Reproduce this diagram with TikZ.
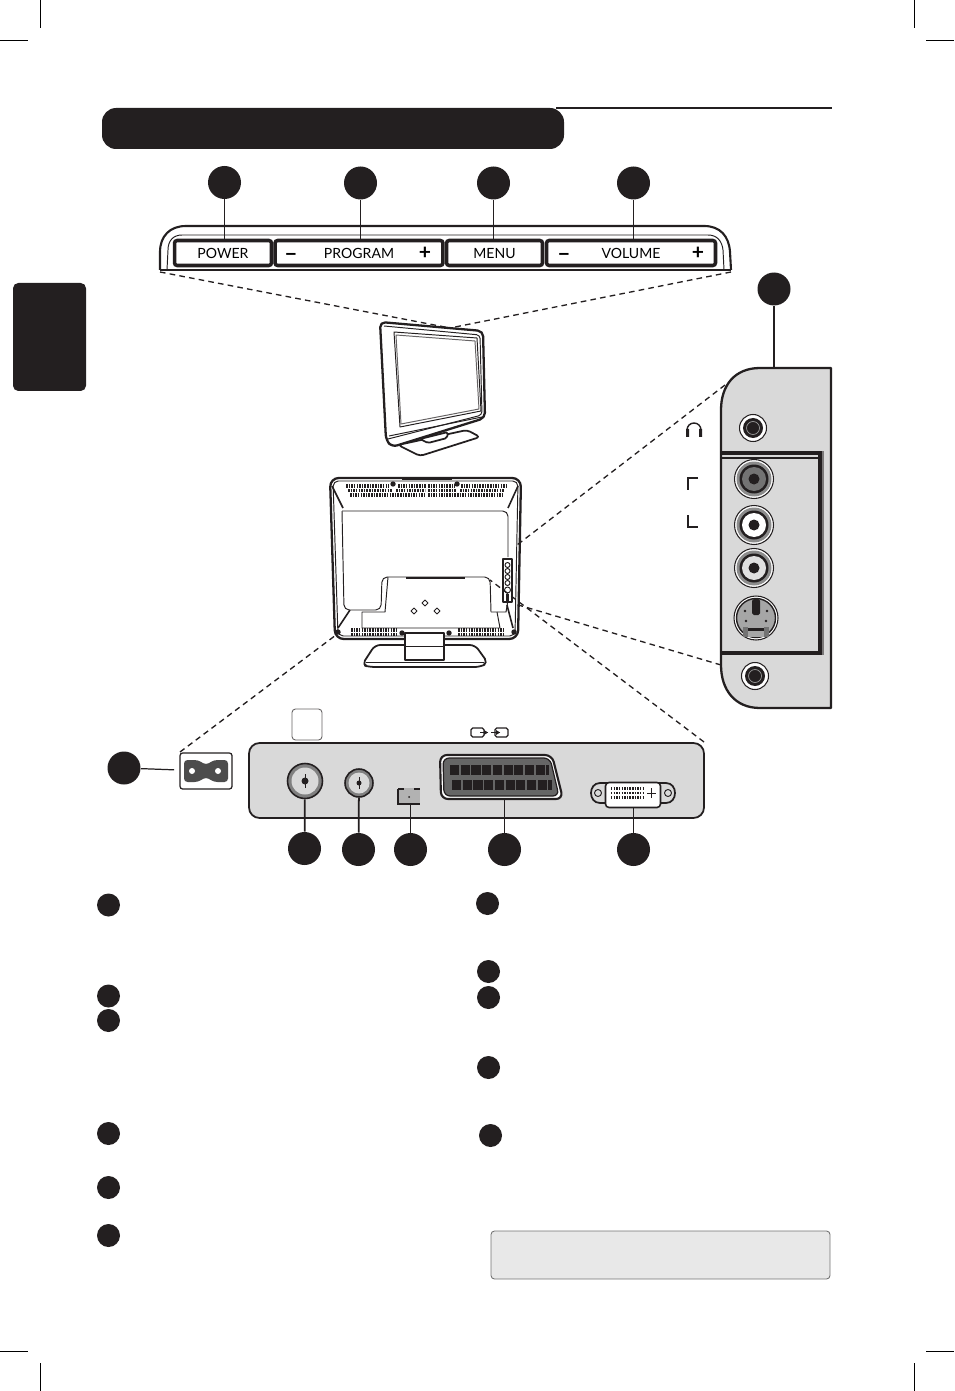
\documentclass[tikz,border=0pt]{standalone}
\usepackage{fontspec}
\setmainfont{Lato}
\usetikzlibrary{positioning}
\definecolor{inkblack}{HTML}{231F20}
\definecolor{panelgrey}{HTML}{D9D9D9}
\definecolor{notegrey}{HTML}{E8E8E8}
\tikzset{
  calldot/.style={circle, fill=inkblack, inner sep=0pt, minimum size=0.66cm},
  listdot/.style={circle, fill=inkblack, inner sep=0pt, minimum size=0.46cm},
  keybox/.style={draw=inkblack, line width=2pt, rounded corners=1.5pt, fill=white, inner sep=0pt, minimum height=0.5cm, text height=6pt, text depth=0pt, font=\fontsize{8}{9}\selectfont},
  keysign/.style={inner sep=0pt, font=\fontsize{12}{12}\selectfont\bfseries},
  leader/.style={draw=inkblack, line width=0.7pt},
  zoomline/.style={draw=inkblack, line width=0.75pt, dash pattern=on 3.2pt off 2.4pt},
  outline/.style={draw=inkblack, line width=1pt, line join=round},
  thinline/.style={draw=inkblack, line width=0.55pt, line join=round},
  vent/.style={draw=inkblack, line width=1.9pt, dash pattern=on 0.9pt off 0.6pt},
  cropmark/.style={draw=black, line width=0.5pt},
  jackring/.style={circle, draw=inkblack, line width=0.6pt, inner sep=0pt}
}
\begin{document}
\begin{tikzpicture}[x=0.02cm, y=-0.02cm]
  \useasboundingbox (0,0) rectangle (954,1391);

  % crop marks
  \draw[cropmark] (40,0) -- (40,28);
  \draw[cropmark] (0,40) -- (28,40);
  \draw[cropmark] (914,0) -- (914,28);
  \draw[cropmark] (926,40) -- (954,40);
  \draw[cropmark] (40,1363) -- (40,1391);
  \draw[cropmark] (0,1351) -- (28,1351);
  \draw[cropmark] (914,1363) -- (914,1391);
  \draw[cropmark] (926,1351) -- (954,1351);

  % heading bar and side tab
  \draw[draw=inkblack, line width=1.1pt] (556,108) -- (832,108);
  \fill[inkblack, rounded corners=8pt] (102,108) rectangle (564,149);
  \fill[inkblack, rounded corners=3pt] (13,283) -- (86,283) -- (86,391) -- (13,391) -- cycle;
  \fill[white] (0,275) rectangle (13,400);

  % key strip
  \draw[outline, line width=1.2pt] (160,270) -- (160,252) .. controls (160,236) and (170,226) .. (186,226) -- (704,226) .. controls (720,226) and (729,236) .. (730,252) -- (731,270);
  \draw[thinline] (167,270) -- (168,250) .. controls (168,241) and (173,235) .. (182,235) -- (708,235) .. controls (717,235) and (722,241) .. (723,250) -- (724,270);
  \draw[outline] (160,270) -- (731,270);
  \node[keybox, minimum width=1.94cm] (power) at (223,253) {POWER};
  \node[keybox, minimum width=3.36cm] (program) at (359,253) {PROGRAM};
  \node[keybox, minimum width=1.92cm] (menu) at (494.5,253) {MENU};
  \node[keybox, minimum width=3.38cm] (volume) at (631,253) {VOLUME};
  \node[keysign] (progminus) at (291,257) {−};
  \node[keysign] (progplus) at (425,253) {+};
  \node[keysign] (volminus) at (564,257) {−};
  \node[keysign] (volplus) at (698,253) {+};

  \node[calldot] (dotpower) at (224.5,182.5) {};
  \node[calldot] (dotprogram) at (360.5,183) {};
  \node[calldot] (dotmenu) at (493.5,183) {};
  \node[calldot] (dotvolume) at (633.5,183) {};
  \draw[leader] (dotpower) -- (dotpower |- power.north);
  \draw[leader, line width=0.9pt] (dotprogram) -- (dotprogram |- program.north);
  \draw[leader] (dotmenu) -- (dotmenu |- menu.north);
  \draw[leader] (dotvolume) -- (dotvolume |- volume.north);

  % front view of the set
  \coordinate (fronttop) at (450,328);
  \coordinate (stripleft) at (160,272);
  \coordinate (stripright) at (731,272);
  \draw[zoomline] (stripleft) -- (fronttop);
  \draw[zoomline] (stripright) -- (fronttop);
  \draw[outline, fill=white, line width=1.3pt, rounded corners=3pt] (380,322) -- (483,331) -- (485,418) -- (392,447) -- (386,440) -- cycle;
  \draw[thinline, rounded corners=2pt] (384,326) -- (480,335) -- (482,415) -- (388,439);
  \draw[thinline] (394,332) -- (477,338) -- (481,411) -- (400,427) -- cycle;
  \draw[thinline, draw=inkblack!70] (396,335) -- (475,341) -- (479,409) -- (401,424) -- cycle;
  \draw[thinline] (389,436) -- (482,417);
  \draw[outline, fill=white, rounded corners=2pt] (398,445) -- (420,456) -- (480,437) -- (467,430) -- cycle;
  \draw[outline, fill=white, rounded corners=1pt] (420,439) -- (428,443) -- (447,438) -- (448,432) -- cycle;

  % rear view of the set
  \draw[outline, line width=1.3pt, rounded corners=5pt] (330,478) -- (521,478) -- (518,639) -- (335,639) -- cycle;
  \draw[thinline, rounded corners=3pt] (333,481) -- (518,481) -- (515,636) -- (338,636) -- cycle;
  \draw[thinline, rounded corners=3pt] (342,511) -- (508,511) -- (508,557);
  \draw[thinline, rounded corners=3pt] (342,511) -- (344,610) -- (381,610) -- (382,577) -- (490,577) -- (491,612);
  \draw[thinline] (508,600) -- (506,612) -- (491,612);
  \draw[thinline] (388,577) -- (385,612) -- (362,612) -- (362,628) -- (500,628) -- (497,612);
  \draw[line width=1.2pt, inkblack] (406,578) -- (465,578);
  \draw[line width=1.2pt, inkblack] (402,479) -- (452,479);
  \draw[thinline, line width=0.9pt] (332,486) -- (343,508);
  \draw[thinline, line width=0.9pt] (518,486) -- (508,508);
  \draw[thinline, line width=0.9pt] (338,628) -- (350,610);
  \draw[thinline, line width=0.9pt] (513,628) -- (507,605);
  \draw[vent] (346,486) -- (389,486);
  \draw[vent] (348,490.5) -- (392,490.5);
  \draw[vent] (350,495) -- (424,495);
  \draw[vent] (398,486) -- (426,486);
  \draw[vent] (396,490.5) -- (425,490.5);
  \draw[vent] (428,486) -- (455,486);
  \draw[vent] (428,490.5) -- (456,490.5);
  \draw[vent] (428,495) -- (502,495);
  \draw[vent] (461,486) -- (506,486);
  \draw[vent] (460,490.5) -- (504,490.5);
  \draw[vent] (351,630) -- (398,630);
  \draw[vent] (351,634.5) -- (398,634.5);
  \draw[vent] (458,630) -- (504,630);
  \draw[vent] (458,634.5) -- (504,634.5);
  \fill[inkblack] (393,484) circle (2.7) (457,484) circle (2.7) (402,633) circle (2.7) (449,633) circle (2.7) (338,632) circle (2.7) (514,632) circle (2.7);
  \draw[thinline] (425,600) -- (428,603) -- (425,606) -- (422,603) -- cycle;
  \draw[thinline] (414,608) -- (417,611) -- (414,614) -- (411,611) -- cycle;
  \draw[thinline] (437,608) -- (440,611) -- (437,614) -- (434,611) -- cycle;
  \draw[outline, fill=white, rounded corners=3pt] (362,665) -- (375,645) -- (475,645) -- (488,663) -- (480,667) -- (370,667) -- cycle;
  \draw[thinline] (366,662) -- (484,662);
  \draw[outline, fill=white] (405,633) rectangle (444,660);
  \draw[thinline] (405,646) -- (444,646);

  % connector strip on the side of the set
  \draw[outline, line width=1.2pt, fill=white] (503,559) rectangle (512,602);
  \draw[thinline] (507.5,565) circle (2.5) (507.5,571) circle (2.5) (507.5,577) circle (2.5) (507.5,583) circle (2.5) (507.5,590) circle (3);
  \fill[inkblack] (506,594) rectangle (509,601);

  % side connectors
  \coordinate (sidetop) at (774,368);
  \coordinate (sideleft) at (725,385);
  \coordinate (sidelow) at (721,665);
  \coordinate (rearside) at (517,545);
  \coordinate (rearlow) at (515,604);
  \draw[zoomline] (sideleft) -- (rearside);
  \draw[zoomline] (sidelow) -- (rearlow);
  \draw[outline, line width=1.3pt, fill=panelgrey] (831,368) -- (760,368) .. controls (735,368) and (721,385) .. (721,410) -- (721,665) .. controls (721,690) and (735,708) .. (760,708) -- (831,708) -- cycle;
  \draw[draw=inkblack, line width=1.8pt] (721,453) -- (820,453) -- (820,653) -- (721,653);
  \draw[draw=inkblack!60, line width=0.9pt] (823,451) -- (823,655);
  \draw[draw=inkblack, line width=0.6pt] (721,458) -- (818,458);

  \node[calldot] (dotside) at (774,289) {};
  \draw[leader] (dotside) -- (sidetop);

  \node[jackring, fill=white, minimum size=0.54cm] (phones) at (753,428) {};
  \fill[inkblack] (phones) circle (10);
  \draw[draw=white!60!black, line width=0.4pt] (phones) circle (6.5);
  \node[jackring, fill=white, minimum size=0.54cm] (spdif) at (755,676) {};
  \fill[inkblack] (spdif) circle (10);
  \draw[draw=white!60!black, line width=0.4pt] (spdif) circle (6.5);

  \node[jackring, fill=white, minimum size=0.78cm] (jackone) at (754,479) {};
  \fill[black!45] (jackone) circle (17.5);
  \fill[inkblack] (jackone) circle (14.5);
  \fill[black!55] (jackone) circle (12);
  \fill[inkblack] (jackone) circle (5.5);
  \node[jackring, fill=white, minimum size=0.78cm] (jacktwo) at (754,525) {};
  \fill[black!45] (jacktwo) circle (17.5);
  \fill[inkblack] (jacktwo) circle (14.5);
  \fill[white] (jacktwo) circle (12);
  \fill[inkblack] (jacktwo) circle (5.5);
  \node[jackring, fill=white, minimum size=0.78cm] (jackthree) at (754,568) {};
  \fill[black!45] (jackthree) circle (17.5);
  \fill[inkblack] (jackthree) circle (14.5);
  \fill[black!12] (jackthree) circle (12);
  \fill[inkblack] (jackthree) circle (5.5);

  \node[jackring, fill=white, minimum size=0.88cm] (svideo) at (756,618) {};
  \draw[draw=inkblack, fill=black!35, line width=0.8pt] (svideo) circle (19.5);
  \fill[inkblack, rounded corners=1pt] (752,599) rectangle (760,615);
  \fill[black!55] (743,627) rectangle (769,637);
  \fill[black!35] (748,627) rectangle (764,637);
  \fill[inkblack] (748,628) rectangle (764,631);
  \fill[inkblack] (745,611) circle (1.4) (767,611) circle (1.4) (746,621) circle (1.4) (766,621) circle (1.4);

  % headphone sign and bracket marks
  \draw[draw=inkblack, line width=0.8pt] (687,430) arc[start angle=180, end angle=360, radius=7];
  \fill[inkblack] (686,429) rectangle (689,437) (699,429) rectangle (702,437);
  \draw[draw=inkblack, line width=1.1pt] (698,478) -- (688,478) -- (688,490);
  \draw[draw=inkblack, line width=1.1pt] (688,515) -- (688,527) -- (698,527);

  % rear connector panel
  \coordinate (panelcorner) at (704,742);
  \coordinate (rearpanel) at (490,580);
  \coordinate (powerinlet) at (180,752);
  \coordinate (rearcorner) at (340,632);
  \draw[zoomline] (panelcorner) -- (rearpanel);
  \draw[zoomline] (powerinlet) -- (rearcorner);
  \draw[outline, fill=panelgrey, rounded corners=6pt] (249,743) rectangle (704,818);
  \draw[draw=inkblack!70, fill=white, line width=0.5pt, rounded corners=2pt] (292,709) rectangle (322,740);

  \node[draw=inkblack, line width=0.7pt, rounded corners=1.5pt, fill=white, minimum width=1.04cm, minimum height=0.72cm, inner sep=0pt] (inlet) at (206,771) {};
  \fill[black!70, rounded corners=2pt] (184,760) -- (198,760) -- (206,765) -- (214,760) -- (228,760) -- (228,782) -- (214,782) -- (206,777) -- (198,782) -- (184,782) -- cycle;
  \fill[white] (192,771) circle (3) (218,771) circle (3);
  \node[calldot] (dotinlet) at (124,768) {};
  \draw[leader, shorten >=3pt] (dotinlet) -- (inlet);

  \node[jackring, draw=inkblack, fill=black!50, line width=0.9pt, minimum size=0.7cm] (antenna) at (305,781) {};
  \fill[panelgrey] (antenna) circle (13.5);
  \fill[inkblack] (305,781) circle (3.5);
  \draw[inkblack, line width=0.4pt] (305,774) -- (305,788);
  \node[jackring, draw=inkblack, fill=black!50, line width=0.9pt, minimum size=0.56cm] (cable) at (359,783) {};
  \fill[panelgrey] (cable) circle (10.5);
  \fill[inkblack] (359,783) circle (2.5);
  \draw[inkblack, line width=0.4pt] (359,777) -- (359,789);
  \node[fill=black!30, inner sep=0pt, minimum width=0.42cm, minimum height=0.32cm] (service) at (409,796) {};
  \draw[draw=inkblack, line width=0.8pt] (398,789) -- (404,789) (414,789) -- (420,789) (398,789) -- (398,804) -- (420,804);
  \fill[inkblack] (409,797) circle (1);

  \draw[outline, line width=1.2pt, fill=white, rounded corners=4pt] (440,755) -- (552,755) -- (563,799) -- (441,799) -- cycle;
  \draw[fill=black!60, draw=inkblack, line width=0.7pt, rounded corners=3.5pt] (443,758) -- (550,758) -- (559,796) -- (444,796) -- cycle;
  \draw[draw=inkblack, line width=6pt, dash pattern=on 5.2pt off 0.9pt] (450,770) -- (549,770);
  \draw[draw=inkblack, line width=6pt, dash pattern=on 5.2pt off 0.9pt] (452,785) -- (552,785);
  \coordinate (scart) at (505,799);

  \draw[outline, fill=panelgrey] (600,783) .. controls (588,783) and (588,803) .. (600,803) -- (666,803) .. controls (678,803) and (678,783) .. (666,783) -- cycle;
  \draw[thinline] (598,793) circle (3.5) (668,793) circle (3.5);
  \node[draw=inkblack, line width=0.9pt, fill=white, rounded corners=2pt, minimum width=1.1cm, minimum height=0.5cm, inner sep=0pt] (dvi) at (633,795) {};
  \draw[draw=inkblack, line width=1.4pt, dash pattern=on 0.8pt off 0.7pt] (611,788.5) -- (643,788.5);
  \draw[draw=inkblack, line width=1.4pt, dash pattern=on 0.8pt off 0.7pt] (611,793) -- (643,793);
  \draw[draw=inkblack, line width=1.4pt, dash pattern=on 0.8pt off 0.7pt] (611,797.5) -- (643,797.5);
  \draw[inkblack, line width=0.4pt] (647,793) -- (656,793) (651.5,788) -- (651.5,798);

  % scart signs above the panel
  \draw[draw=inkblack, rounded corners=1pt, line width=0.7pt] (471,728) rectangle (484,737);
  \draw[draw=inkblack, rounded corners=1pt, line width=0.7pt] (495,728) rectangle (508,737);
  \draw[inkblack, line width=0.8pt] (480,732.5) -- (488,732.5) (491,732.5) -- (500,732.5);
  \fill[inkblack] (488,732.5) -- (484,730) -- (484,735) -- cycle (500,732.5) -- (496,730) -- (496,735) -- cycle;

  \node[calldot] (dotantenna) at (304.5,848.5) {};
  \node[calldot] (dotcable) at (358.5,849.5) {};
  \node[calldot] (dotservice) at (410.5,849.5) {};
  \node[calldot] (dotscart) at (504.5,849.5) {};
  \node[calldot] (dotdvi) at (633.5,849.5) {};
  \draw[leader, line width=1pt] (dotantenna) -- (antenna);
  \draw[leader, line width=1pt] (dotcable) -- (cable);
  \draw[leader] (dotservice) -- (dotservice |- service.south);
  \draw[leader, line width=1pt] (dotscart) -- (dotscart |- scart);
  \draw[leader, line width=1pt] (dotdvi) -- (dotdvi |- dvi.south);

  % list markers
  \node[listdot] (lista) at (108.5,905) {};
  \node[listdot] (listb) at (108.5,996) {};
  \node[listdot] (listc) at (108.5,1020.5) {};
  \node[listdot] (listd) at (108.5,1133.5) {};
  \node[listdot] (liste) at (108.5,1187.5) {};
  \node[listdot] (listf) at (108.5,1235.5) {};
  \node[listdot] (listg) at (487.5,903.5) {};
  \node[listdot] (listh) at (488.5,971.5) {};
  \node[listdot] (listi) at (488.5,997.5) {};
  \node[listdot] (listj) at (488.5,1067.5) {};
  \node[listdot] (listk) at (490.5,1135.5) {};

  % note box
  \draw[draw=black!55, fill=notegrey, line width=0.5pt, rounded corners=2pt] (491,1231) rectangle (830,1279);
\end{tikzpicture}
\end{document}
